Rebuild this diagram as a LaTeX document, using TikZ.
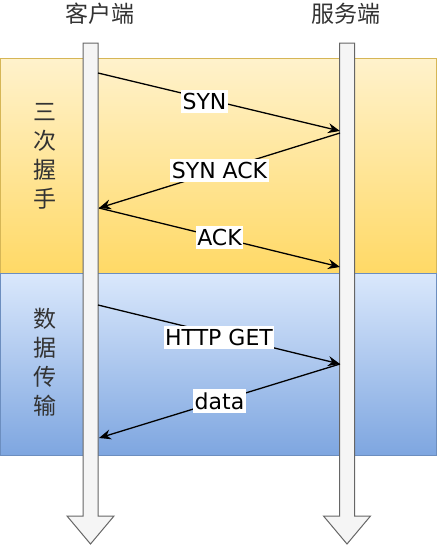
\documentclass[tikz,border=0pt]{standalone}
\usepackage{fontspec}
\setmainfont{DejaVu Sans}
\newfontfamily\cjk{Noto Sans CJK SC}
\usetikzlibrary{arrows.meta}
\definecolor{yelTop}{HTML}{FFF2CC}
\definecolor{yelBot}{HTML}{FFD966}
\definecolor{yelLine}{HTML}{D6B656}
\definecolor{bluTop}{HTML}{DAE8FC}
\definecolor{bluBot}{HTML}{7EA6E0}
\definecolor{bluLine}{HTML}{6C8EBF}
\definecolor{lifeFill}{HTML}{F5F5F5}
\definecolor{lifeLine}{HTML}{666666}
\definecolor{txtGray}{HTML}{333333}

\begin{document}
\begin{tikzpicture}[x=1pt,y=-1pt,
        msg/.style={line width=1.3pt,-{Stealth[length=12pt,width=10pt,inset=4pt]}},
        lbl/.style={fill=white,inner xsep=1.5pt,inner ysep=3pt,font=\fontsize{22}{22}\selectfont},
        side/.style={font=\cjk\fontsize{23}{29}\selectfont,text=txtGray,align=center},
        life/.style={draw=lifeLine,fill=lifeFill,line width=1pt}]
    \useasboundingbox (0,0) rectangle (437,546);
    % bands
    \draw[draw=yelLine,top color=yelTop,bottom color=yelBot] (0.5,58) rectangle (436,273);
    \draw[draw=bluLine,top color=bluTop,bottom color=bluBot] (0.5,273) rectangle (436,455);
    \node[side] (shake) at (45,156) {三\\次\\握\\手};
    \node[side] (trans) at (45,362) {数\\据\\传\\输};
    % lifelines
    \foreach \x in {90.5,347}
        \draw[life] (\x-7.5,43) -- (\x+7.5,43) -- (\x+7.5,516) -- (\x+23.5,516)
            -- (\x,544) -- (\x-23.5,516) -- (\x-7.5,516) -- cycle;
    \node[side] (client) at (100,14) {客户端};
    \node[side] (server) at (346,14) {服务端};
    % message points
    \coordinate (c1) at (98,73);   \coordinate (s1) at (340,131);
    \coordinate (s2) at (340,133); \coordinate (c2) at (99,208);
    \coordinate (s3) at (340,267);
    \coordinate (c4) at (98,305);  \coordinate (s4) at (340,364);
    \coordinate (c5) at (99,438);
    \draw[msg] (c1) -- node[lbl,pos=0.44,yshift=-3pt] {SYN} (s1);
    \draw[msg] (s2) -- node[lbl] {SYN ACK} (c2);
    \draw[msg] (c2) -- node[lbl] {ACK} (s3);
    \draw[msg] (c4) -- node[lbl,yshift=-3pt] {HTTP GET} (s4);
    \draw[msg] (s4) -- node[lbl] {data} (c5);
\end{tikzpicture}
\end{document}
